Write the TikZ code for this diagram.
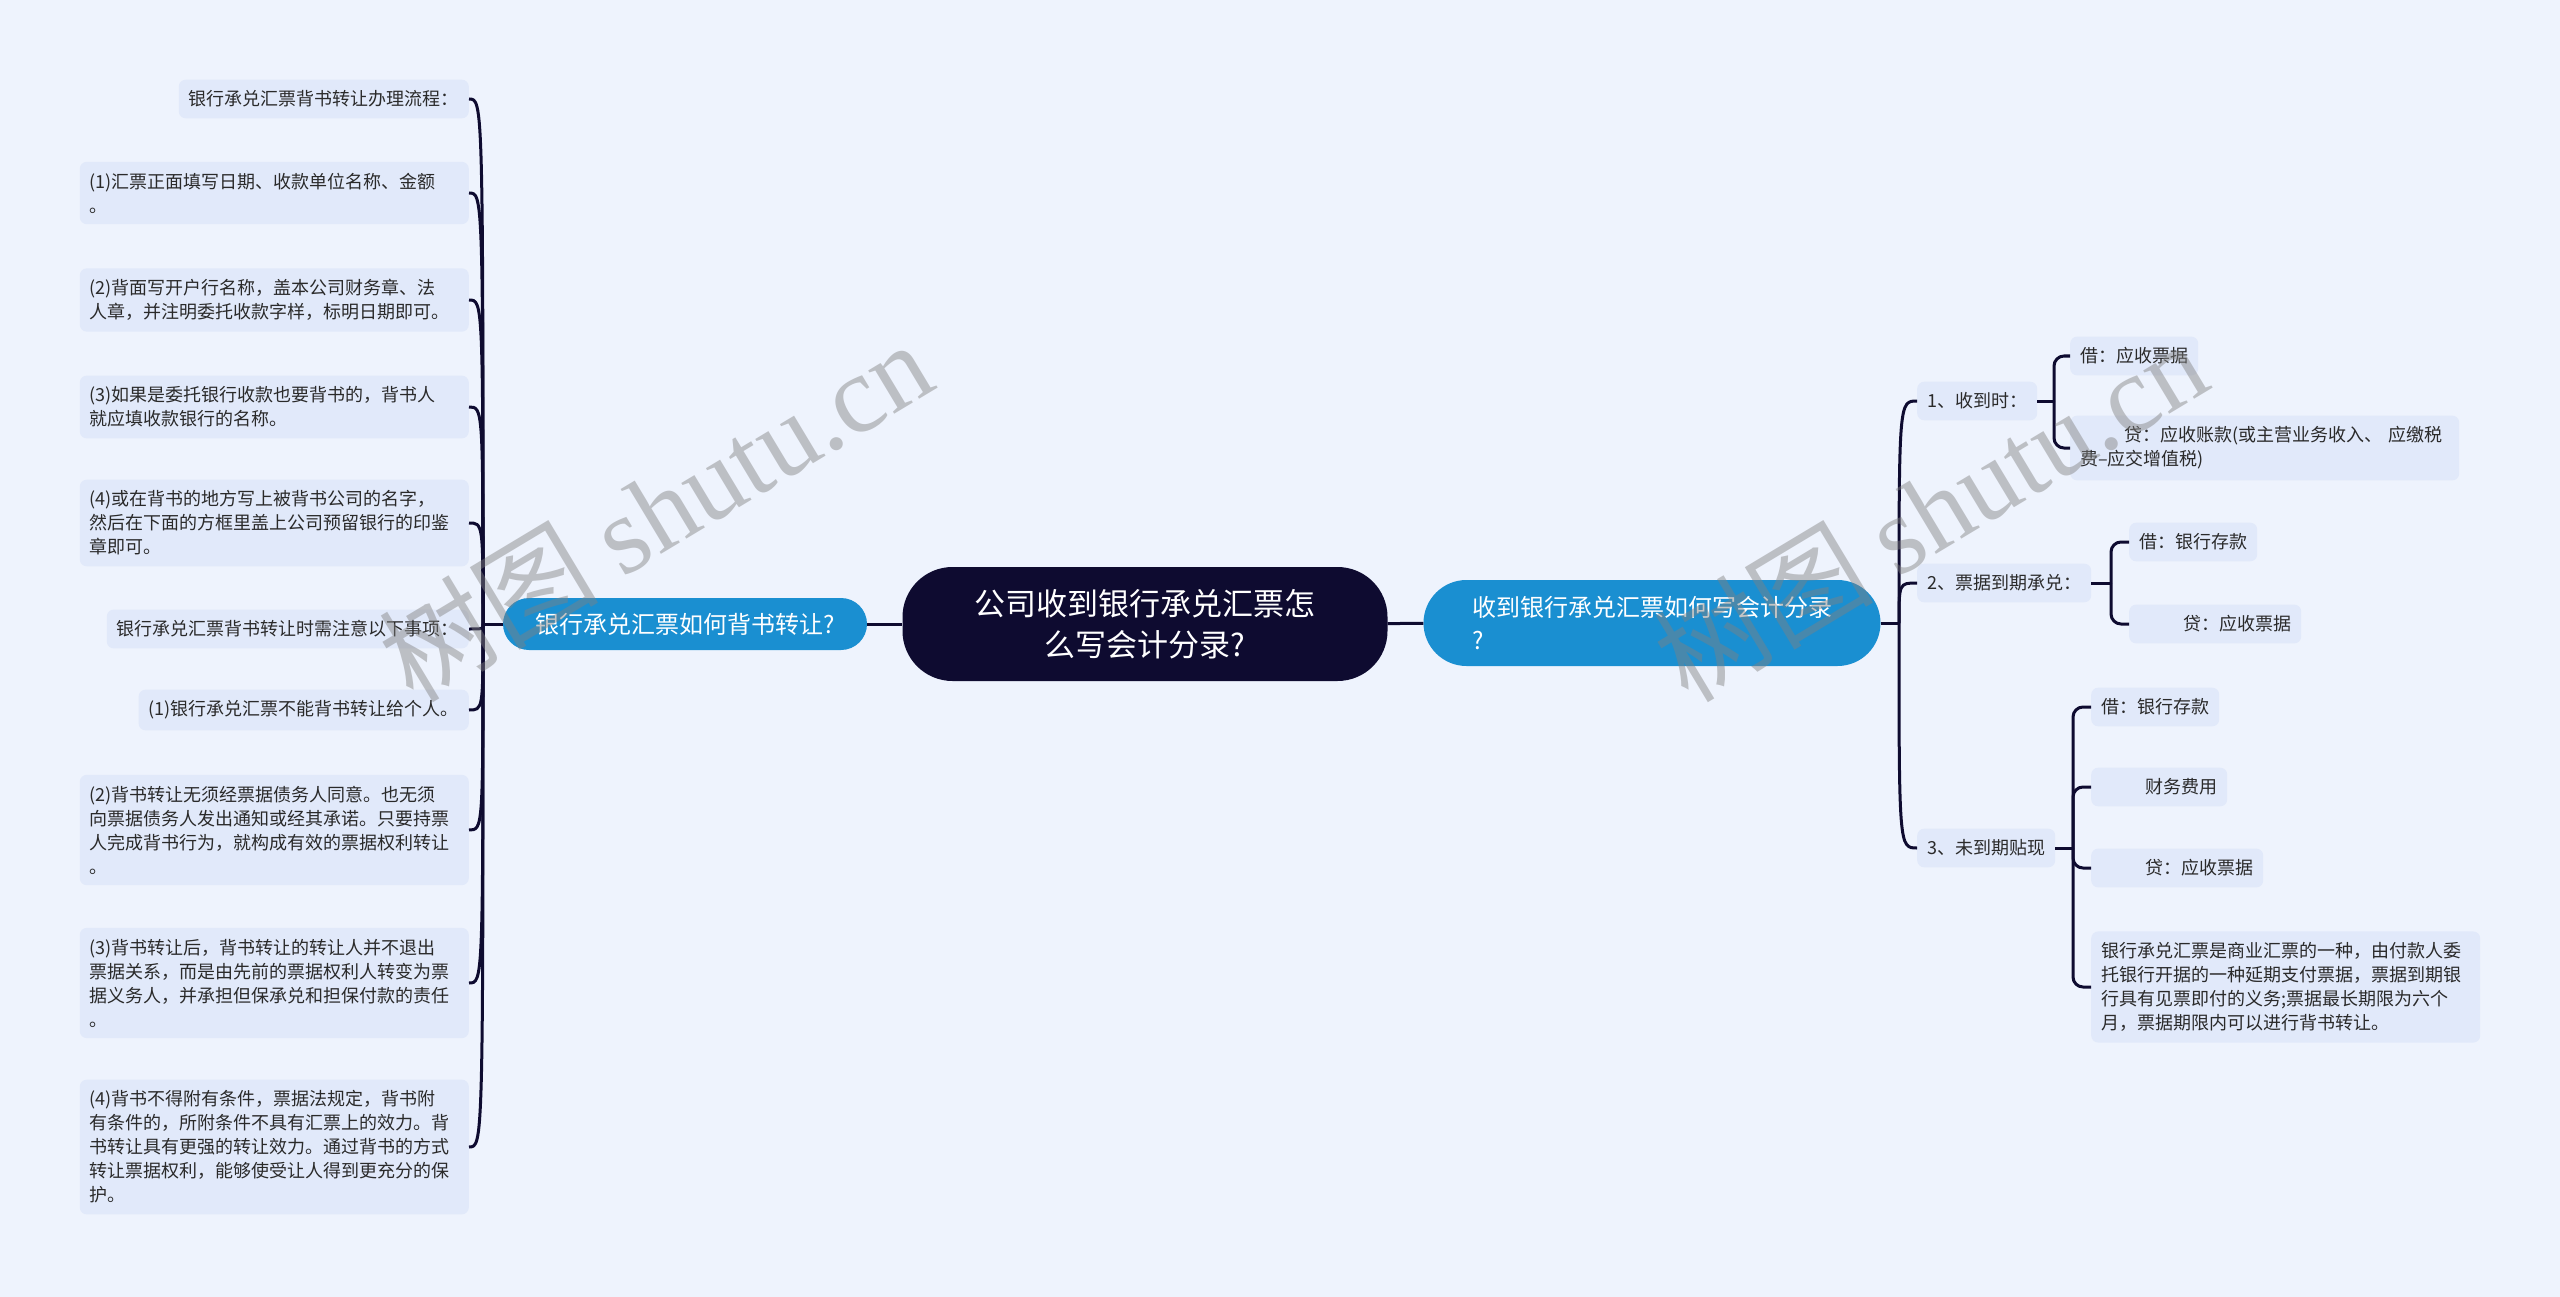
\documentclass[tikz,border=0pt]{standalone}
\usepackage{fontspec}
\setmainfont{Noto Sans CJK SC}
\newfontfamily\wmserif{Liberation Serif}
\usepackage{tikz}

\definecolor{bgcol}{HTML}{EEF3FD}
\definecolor{leafcol}{HTML}{E1E9FA}
\definecolor{bluecol}{HTML}{1A8FD1}
\definecolor{navycol}{HTML}{0E0B30}
\definecolor{textcol}{HTML}{2A2A2A}
\definecolor{wmcol}{HTML}{808080}

\newcommand{\ind}{\hspace*{44pt}}

\begin{document}
\begin{tikzpicture}[x=1pt,y=-1pt,
    leaf/.style={fill=leafcol,rounded corners=7pt,inner xsep=10pt,inner ysep=11pt,
      font=\fontsize{18}{24}\selectfont,text=textcol,align=left},
    lleaf/.style={leaf,anchor=east},
    rleaf/.style={leaf,anchor=west},
    para/.style={text width=369pt},
    topic/.style={fill=bluecol,text=white,font=\fontsize{24}{33}\selectfont,align=left,inner sep=0pt},
    root/.style={fill=navycol,text=white,font=\fontsize{31}{41}\selectfont,align=center,
      rounded corners=50pt,minimum width=485pt,minimum height=114pt},
    link/.style={draw=navycol,line width=3pt},
    wmark/.style={text=wmcol,opacity=0.45,font=\fontsize{110}{110}\selectfont}]

    \path[fill=bgcol] (0,0) rectangle (2560,1297);

    \node[root]                 (root) at (1145, 624)  {公司收到银行承兑汇票怎\\么写会计分录?};
    \node[topic,minimum width=364pt,minimum height=52pt,rounded corners=26pt]
                                (lb)   at (685, 624)   {银行承兑汇票如何背书转让?};
    \node[topic,minimum width=457pt,minimum height=86pt,rounded corners=43pt]
                                (rb)   at (1652, 623)  {收到银行承兑汇票如何写会计分录\\?};

    \node[lleaf]                (l0) at (469, 99)   {银行承兑汇票背书转让办理流程：};
    \node[lleaf,para]           (l1) at (469, 193)  {(1)汇票正面填写日期、收款单位名称、金额\\。};
    \node[lleaf,para]           (l2) at (469, 300)  {(2)背面写开户行名称，盖本公司财务章、法\\人章，并注明委托收款字样，标明日期即可。};
    \node[lleaf,para]           (l3) at (469, 407)  {(3)如果是委托银行收款也要背书的，背书人\\就应填收款银行的名称。};
    \node[lleaf,para]           (l4) at (469, 523)  {(4)或在背书的地方写上被背书公司的名字，\\然后在下面的方框里盖上公司预留银行的印鉴\\章即可。};
    \node[lleaf]                (l5) at (469, 629)  {银行承兑汇票背书转让时需注意以下事项：};
    \node[lleaf]                (l6) at (469, 710)  {(1)银行承兑汇票不能背书转让给个人。};
    \node[lleaf,para]           (l7) at (469, 830)  {(2)背书转让无须经票据债务人同意。也无须\\向票据债务人发出通知或经其承诺。只要持票\\人完成背书行为，就构成有效的票据权利转让\\。};
    \node[lleaf,para]           (l8) at (469, 983)  {(3)背书转让后，背书转让的转让人并不退出\\票据关系，而是由先前的票据权利人转变为票\\据义务人，并承担但保承兑和担保付款的责任\\。};
    \node[lleaf,para]           (l9) at (469, 1147) {(4)背书不得附有条件，票据法规定，背书附\\有条件的，所附条件不具有汇票上的效力。背\\书转让具有更强的转让效力。通过背书的方式\\转让票据权利，能够使受让人得到更充分的保\\护。};

    \node[rleaf]                (r1)  at (1917, 401) {1、收到时：};
    \node[rleaf]                (r1a) at (2070, 356) {借：应收票据};
    \node[rleaf,para]           (r1b) at (2070, 448) {\ind 贷：应收账款(或主营业务收入、~应缴税\\费–应交增值税)};
    \node[rleaf]                (r2)  at (1917, 583) {2、票据到期承兑：};
    \node[rleaf]                (r2a) at (2129, 542) {借：银行存款};
    \node[rleaf]                (r2b) at (2129, 624) {\ind 贷：应收票据};
    \node[rleaf]                (r3)  at (1917, 848) {3、未到期贴现};
    \node[rleaf]                (r3a) at (2091, 707) {借：银行存款};
    \node[rleaf]                (r3b) at (2091, 787) {\ind 财务费用};
    \node[rleaf]                (r3c) at (2091, 868) {\ind 贷：应收票据};
    \node[rleaf,para]           (r3d) at (2091, 987) {银行承兑汇票是商业汇票的一种，由付款人委\\托银行开据的一种延期支付票据，票据到期银\\行具有见票即付的义务;票据最长期限为六个\\月，票据期限内可以进行背书转让。};

    \coordinate (lsp) at (483, 624);
    \coordinate (rsp) at (1899, 623);
    \coordinate (b1)  at (2054, 401);
    \coordinate (b2)  at (2111, 583);
    \coordinate (b3)  at (2073, 848);

    \draw[link] (lb) -- (root);
    \draw[link] (root) -- (rb);
    \draw[link] (lb.west) -- (lsp);
    \draw[link] (rb.east) -- (rsp);

    \foreach \c in {l0,l1,l2,l3,l4,l5,l6,l7,l8,l9}
      \draw[link] (lsp) .. controls (lsp |- \c.east) .. (\c.east);
    \foreach \c in {r1,r2,r3}
      \draw[link] (rsp) .. controls (rsp |- \c.west) .. (\c.west);

    \draw[link] (r1.east) -- (b1);
    \draw[link] (r2.east) -- (b2);
    \draw[link] (r3.east) -- (b3);
    \foreach \c in {r1a,r1b}
      \draw[link,rounded corners=10pt] (b1) |- (\c.west);
    \foreach \c in {r2a,r2b}
      \draw[link,rounded corners=10pt] (b2) |- (\c.west);
    \foreach \c in {r3a,r3b,r3c,r3d}
      \draw[link,rounded corners=10pt] (b3) |- (\c.west);

    \node[wmark,rotate=31] (wm1) at (655, 510)  {树图 {\wmserif shutu.cn}};
    \node[wmark,rotate=31] (wm2) at (1930, 510) {树图 {\wmserif shutu.cn}};
\end{tikzpicture}
\end{document}
